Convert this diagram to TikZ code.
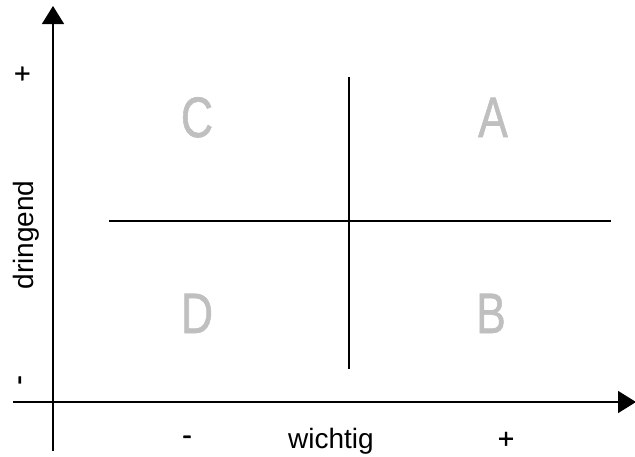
\documentclass[tikz,border=0pt]{standalone}
\usepackage{fontspec}
\setmainfont{Liberation Sans}
\newfontfamily\heavyfont[FakeBold=1.2]{Liberation Sans}
\usepackage{xcolor}
\usetikzlibrary{positioning,arrows.meta}

\begin{document}
\begin{tikzpicture}[
  x=1pt, y=-1pt,
  ax/.style={line width=1.6pt, -{Triangle[length=18pt, width=22pt]}},
  ln/.style={line width=1.4pt},
  lbl/.style={inner sep=0pt, font=\fontsize{28}{32}\selectfont},
  sgn/.style={lbl, font=\fontsize{28}{32}\selectfont\heavyfont},
  quad/.style={inner sep=0pt, anchor=base, text=black!25, xscale=0.78,
               font=\fontsize{57}{62}\selectfont\heavyfont},
]
  \useasboundingbox (0,0) rectangle (635,456);

  % axes
  \coordinate (yb) at (53,451);
  \coordinate (yt) at (53,6);
  \coordinate (xl) at (13,402);
  \coordinate (xr) at (636,402);
  \draw[ax] (yb) -- (yt);
  \draw[ax] (xl) -- (xr);

  % quadrant cross
  \coordinate (hl) at (109,221);
  \coordinate (hr) at (611,221);
  \coordinate (vt) at (349,77);
  \coordinate (vb) at (349,369);
  \draw[ln] (hl) -- (hr);
  \draw[ln] (vt) -- (vb);

  % quadrant letters
  \node[quad] (qc) at (197,137) {C};
  \node[quad] (qa) at (493,137) {A};
  \node[quad] (qd) at (197,333) {D};
  \node[quad] (qb) at (491,333) {B};

  % axis labels
  \node[sgn, rotate=90] (yplus) at (23.5,73.5) {+};
  \node[sgn, rotate=90] (yminus) at (23,380) {-};
  \node[lbl, rotate=90, anchor=base] (ytxt) at (33,235) {dringend};
  \node[sgn] (xminus) at (187,440) {-};
  \node[sgn] (xplus) at (506,440) {+};
  \node[lbl, anchor=base] (xtxt) at (331,448) {wichtig};
\end{tikzpicture}
\end{document}
